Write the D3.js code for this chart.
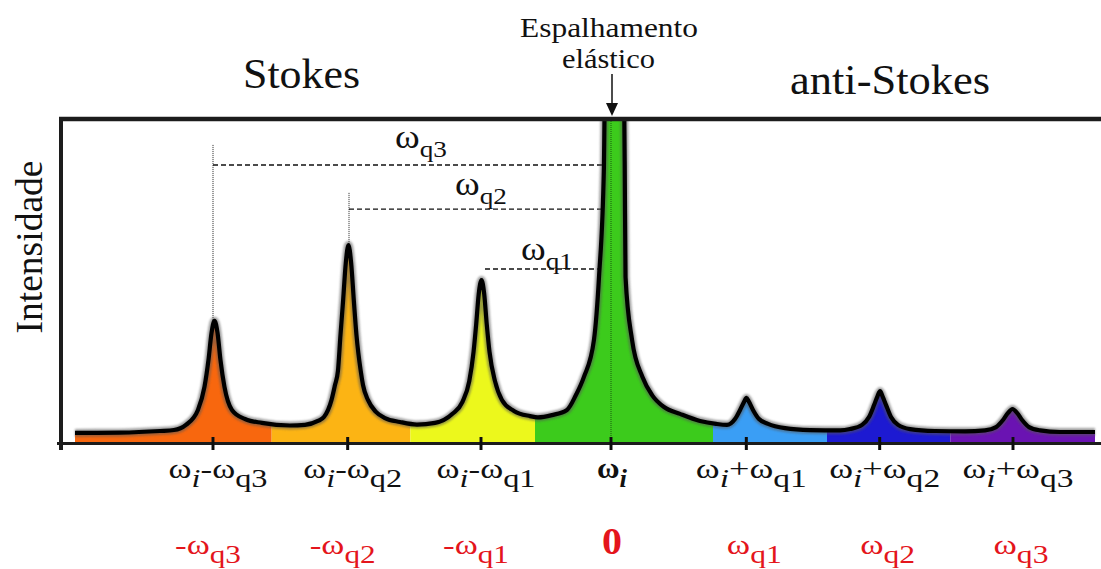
<!DOCTYPE html>
<html>
<head>
<meta charset="utf-8">
<script src="https://cdn.jsdelivr.net/npm/d3@7"></script>
</head>
<body style="margin:0;background:#fff">
<svg id="chart" width="1101" height="569"></svg>
<script>
// Raman spectrum: Rayleigh line in the centre, Stokes lines left, anti-Stokes right
const peakShift = [-300, -199, -99, -1.5, 100, 200, 300];
const ramanLabels = ["ω_i-ω_q3", "ω_i-ω_q2", "ω_i-ω_q1", "ω_i", "ω_i+ω_q1", "ω_i+ω_q2", "ω_i+ω_q3"];
const shiftLabels = ["-ω_q3", "-ω_q2", "-ω_q1", "0", "ω_q1", "ω_q2", "ω_q3"];

// traced spectrum outline: [shift, intensity]
const spectrum = [
  [-403.5, 3.1], [-369.8, 3.2], [-339.8, 3.7], [-329.3, 4.0], [-320.3, 5.6],
  [-311.3, 10.2], [-306.4, 17.3], [-303.4, 25.6], [-301.1, 34.0], [-298.9, 37.7],
  [-296.6, 34.0], [-294.4, 25.6], [-291.4, 17.3], [-285.8, 10.2], [-276, 7.4],
  [-263.3, 6.2], [-242.3, 5.4], [-231, 5.6],
  [-221.3, 6.8], [-216.8, 8.0], [-211.1, 13.3], [-208.5, 17.9], [-206.3, 22.2],
  [-204.4, 33.3], [-202.4, 44.1], [-200.4, 55.6], [-198.4, 61.1], [-196.4, 55.6],
  [-194.4, 44.1], [-192.4, 33.3], [-189.2, 22.2], [-187.5, 17.9], [-183.8, 13.3],
  [-177.8, 9.6], [-171, 7.7], [-159.8, 6.5], [-147, 5.7],
  [-133.5, 6.2], [-120.4, 9.0], [-112.9, 12.7], [-107.8, 19.1], [-104.6, 28.1],
  [-102.6, 36.7], [-100.7, 46.0], [-98.6, 50.3], [-96.6, 46.0], [-94.7, 36.7],
  [-92.6, 28.1], [-88.5, 19.1], [-83.3, 13.3], [-74.3, 9.9], [-62.3, 8.3], [-56.3, 7.9],
  [-45.8, 8.6], [-34.5, 10.2], [-27.8, 14.8], [-21.8, 20.4], [-14.3, 31.8],
  [-10.5, 51.2], [-6.8, 85.2], [-6.4, 99.7], [-6.0, 110], [1, 125], [8.2, 110],
  [8.5, 99.7], [8.8, 85.2], [9.4, 51.2], [14.3, 31.8], [22.1, 20.4], [29.3, 14.8],
  [38.3, 11.1], [50.3, 9.0], [65.3, 6.8], [77.3, 5.9], [85.5, 5.6],
  [91.5, 7.4], [95.3, 10.2], [98.3, 12.7], [100.1, 13.9], [102, 12.7], [105, 10.2],
  [109.5, 7.4], [116.3, 5.9], [129, 4.6], [147.8, 4.0], [170.3, 3.9],
  [177.8, 4.3], [186.8, 5.6], [192, 8.0], [195.8, 11.7], [198.4, 14.5], [200.3, 16.0],
  [202.1, 14.5], [204.8, 11.7], [208.5, 8.0], [213.8, 5.6], [222.8, 4.3], [241.5, 3.7],
  [264, 3.6],
  [279, 3.9], [287.3, 4.9], [292.5, 7.1], [296.3, 9.3], [299.6, 10.5], [303, 9.3],
  [306.8, 7.1], [312, 4.9], [320.3, 3.9], [335.3, 3.4], [361.5, 3.4]
];

// colour bands under the curve (edges in shift units)
const bandEdges = [-256, -152, -58.5, 75, 160.5, 253];
const bandColors = ["#f8670e", "#fcb414", "#ecf81c", "#3ccb1c", "#3a9ef5", "#1d1ad2", "#6a13b2"];

// phonon frequency markers
const markerNames = ["ω_q3", "ω_q2", "ω_q1"];
const markerLevel = [85.8, 72.2, 53.7];
const markerFrom = [-300, -198, -96];
const markerTop = [92.0, 77.2, null];

const FONT = '"Liberation Serif"';

const svg = d3.select("#chart").style("display", "block");
const W = 1101, H = 569;
const x = d3.scaleLinear().domain([-300, 300]).range([213, 1013]);
const y = d3.scaleLinear().domain([0, 100]).range([443, 119]);
const plotLeft = 61, plotTop = 119, plotBottom = 443;

const defs = svg.append("defs");
defs.append("filter").attr("id", "soft").attr("x", "-5%").attr("y", "-5%").attr("width", "110%").attr("height", "110%")
  .append("feGaussianBlur").attr("stdDeviation", 0.6);
defs.append("filter").attr("id", "halo").attr("x", "-5%").attr("y", "-5%").attr("width", "110%").attr("height", "110%")
  .append("feGaussianBlur").attr("stdDeviation", 1.3);
defs.append("clipPath").attr("id", "plot")
  .append("rect").attr("x", plotLeft).attr("y", plotTop).attr("width", W - plotLeft).attr("height", plotBottom - plotTop);
const edges = [-1000, ...bandEdges, 1000];
bandColors.forEach((c, i) => {
  const x0 = Math.max(0, x(edges[i])), x1 = Math.min(W, x(edges[i + 1]));
  defs.append("clipPath").attr("id", "band" + i)
    .append("rect").attr("x", x0).attr("y", 0).attr("width", x1 - x0).attr("height", H);
});

// text with subscripts written as "_xx", stretched horizontally to a given width
function richLabel(cx, baseline, str, opt) {
  const g = svg.append("g").attr("transform", `translate(${cx},${baseline})`);
  const t = g.append("text").attr("text-anchor", "middle")
    .style("font-family", FONT).attr("fill", opt.color)
    .attr("font-weight", opt.bold ? "bold" : null);
  const parts = str.split(/(_[a-z0-9]+)/).filter(Boolean);
  let low = false;
  parts.forEach(p => {
    if (p[0] === "_") {
      const s = p.slice(1);
      t.append("tspan").attr("dy", low ? 0 : opt.subDy).attr("font-size", opt.sub)
        .attr("font-style", s === "i" ? "italic" : null).text(s);
      low = true;
    } else {
      t.append("tspan").attr("dy", low ? -opt.subDy : 0).attr("font-size", opt.size).text(p);
      low = false;
    }
  });
  if (opt.width) {
    const bb = t.node().getBBox();
    const sx = opt.width / bb.width;
    const mid = bb.x + bb.width / 2;
    t.attr("transform", `scale(${sx},1) translate(${-mid},0)`);
  }
  return g;
}

function plainLabel(cx, baseline, str, size, width, rotate) {
  const t = svg.append("text")
    .attr("transform", `translate(${cx},${baseline})` + (rotate ? " rotate(-90)" : ""))
    .attr("text-anchor", "middle").style("font-family", FONT)
    .attr("font-size", size).attr("fill", "#111").text(str);
  if (width) t.attr("textLength", width).attr("lengthAdjust", "spacingAndGlyphs");
  return t;
}

const plot = svg.append("g").attr("clip-path", "url(#plot)");

// guide lines for the Stokes shifts
markerFrom.forEach((f, i) => {
  if (markerTop[i] !== null) {
    plot.append("line")
      .attr("x1", x(f)).attr("x2", x(f))
      .attr("y1", y(markerTop[i])).attr("y2", y(0))
      .attr("stroke", "#222").attr("stroke-width", 1).attr("stroke-dasharray", "1,1");
  }
  plot.append("line")
    .attr("x1", x(f)).attr("x2", x(peakShift[3]))
    .attr("y1", y(markerLevel[i])).attr("y2", y(markerLevel[i]))
    .attr("stroke", "#111").attr("stroke-width", 1.3).attr("stroke-dasharray", "5,3");
});

// filled spectrum in coloured bands
const area = d3.area().curve(d3.curveMonotoneX)
  .x(d => x(d[0])).y0(y(0)).y1(d => y(d[1]));
bandColors.forEach((c, i) => {
  plot.append("g").attr("clip-path", "url(#band" + i + ")")
    .append("path").datum(spectrum).attr("d", area).attr("fill", c);
});

// Rayleigh line centre
plot.append("line")
  .attr("x1", x(peakShift[3])).attr("x2", x(peakShift[3]))
  .attr("y1", y(100)).attr("y2", y(0))
  .attr("stroke", "#1a5a10").attr("stroke-width", 1).attr("stroke-dasharray", "1,1");

// outline
const line = d3.line().curve(d3.curveMonotoneX).x(d => x(d[0])).y(d => y(d[1]));
plot.append("path").datum(spectrum).attr("d", line)
  .attr("fill", "none").attr("stroke", "#555").attr("stroke-width", 8).attr("opacity", 0.55)
  .attr("filter", "url(#halo)");
plot.append("path").datum(spectrum).attr("d", line)
  .attr("fill", "none").attr("stroke", "#050505").attr("stroke-width", 4.2)
  .attr("stroke-linejoin", "round").attr("filter", "url(#soft)");

// frame
const frame = svg.append("g").attr("filter", "url(#soft)");
frame.append("line").attr("x1", plotLeft - 2).attr("x2", W).attr("y1", plotTop).attr("y2", plotTop)
  .attr("stroke", "#1a1a1a").attr("stroke-width", 4.5);
frame.append("line").attr("x1", plotLeft).attr("x2", plotLeft).attr("y1", plotTop - 2).attr("y2", 450)
  .attr("stroke", "#1a1a1a").attr("stroke-width", 4);
frame.append("line").attr("x1", 57).attr("x2", W).attr("y1", plotBottom + 0.5).attr("y2", plotBottom + 0.5)
  .attr("stroke", "#1a1a1a").attr("stroke-width", 3);
peakShift.forEach(s => {
  frame.append("line").attr("x1", x(s)).attr("x2", x(s)).attr("y1", 437).attr("y2", 450)
    .attr("stroke", "#111").attr("stroke-width", 3);
});

// shift labels on the guide lines
const markerLabelX = [421, 481, 547];
const markerLabelDy = [-17, -14, -9];
markerNames.forEach((n, i) => {
  richLabel(markerLabelX[i], y(markerLevel[i]) + markerLabelDy[i], n,
    { size: 33, sub: 24, subDy: 9, color: "#111", width: 52 });
});

// axis labels: absolute frequencies
ramanLabels.forEach((lab, i) => {
  const bold = lab === "ω_i";
  const wide = lab.includes("+");
  richLabel(x(peakShift[i]) + (bold ? 1 : 5), 478, lab,
    { size: bold ? 29 : 27, sub: 25, subDy: 9, color: "#111", bold,
      width: bold ? 30 : (wide ? 111 : 99) });
});
// relative shifts
shiftLabels.forEach((lab, i) => {
  const zero = lab === "0";
  const neg = lab[0] === "-";
  richLabel(x(peakShift[i]) + (zero ? 1 : (neg ? -5 : 8)), 554, lab,
    { size: zero ? 37 : 28, sub: 25, subDy: 9, color: "#e4151c", bold: zero,
      width: zero ? 20 : (neg ? 66 : 55) });
});

// titles
plainLabel(301.5, 88, "Stokes", 42, 117);
plainLabel(890, 94, "anti-Stokes", 42, 200);
plainLabel(609, 37, "Espalhamento", 28, 178);
plainLabel(608.5, 68, "elástico", 28, 93);
plainLabel(42, 247, "Intensidade", 38, 173, true);

// arrow to the elastic line
const ax = x(peakShift[3]) + 1;
svg.append("line").attr("x1", ax).attr("x2", ax).attr("y1", 74).attr("y2", 104)
  .attr("stroke", "#111").attr("stroke-width", 1.5);
svg.append("path").attr("d", `M${ax - 6},103 L${ax + 6},103 L${ax},116 Z`).attr("fill", "#111");
</script>
</body>
</html>
